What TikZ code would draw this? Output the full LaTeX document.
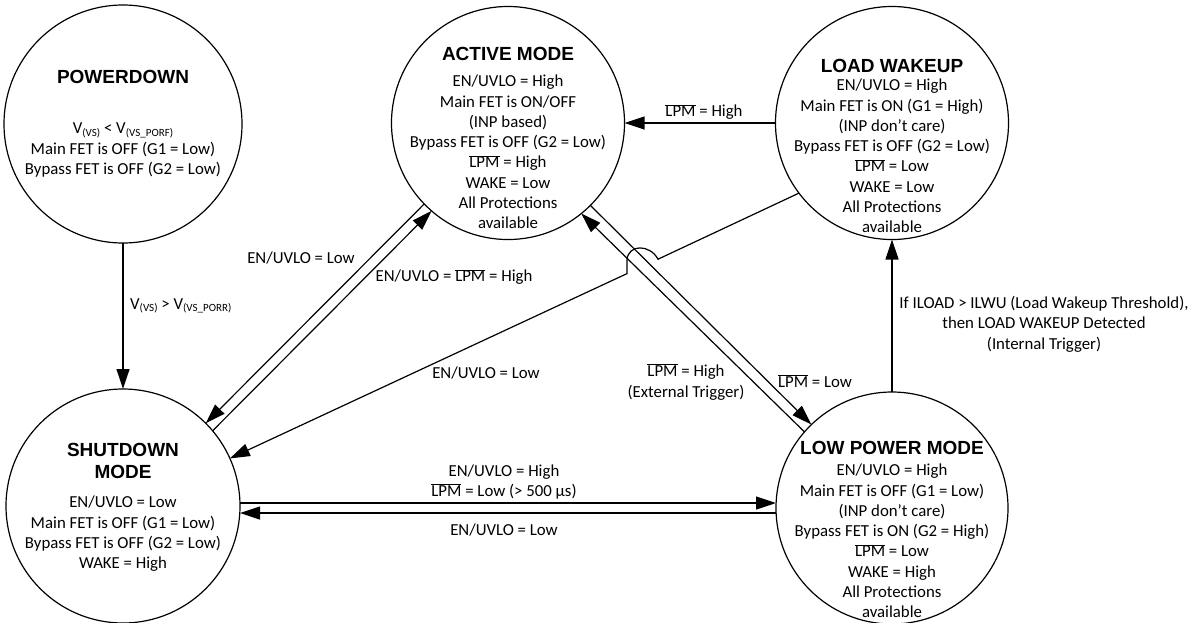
\documentclass[tikz,border=0pt]{standalone}
\usepackage{fontspec}
\setmainfont{Carlito}
\newfontfamily\ttlfont{Liberation Sans}
\usetikzlibrary{arrows.meta}
\newcommand\ovl[1]{$\overline{\mbox{#1}}$}
\newcommand\vsub[1]{\raisebox{-0.3ex}{\fontsize{11}{11}\selectfont#1}}
\begin{document}
\begin{tikzpicture}[x=1pt,y=-1pt,
  state/.style={draw, circle, line width=1.2pt, inner sep=0pt, outer sep=0pt},
  ttl/.style={font=\ttlfont\bfseries\fontsize{19}{22}\selectfont, align=center, inner sep=0pt},
  body/.style={font=\fontsize{16.8}{20.3}\selectfont, align=center, inner sep=0pt},
  lbl/.style={font=\fontsize{16.8}{20.3}\selectfont, align=center, inner sep=0pt},
  conn/.style={line width=1.2pt, -{Triangle[length=20pt,width=13pt]}},
]
\useasboundingbox (0,0) rectangle (1194,622);
% states
\node[state, minimum size=238] (pd)  at (123,124) {};
\node[state, minimum size=233] (act) at (508,123) {};
\node[state, minimum size=233] (lw)  at (892,123) {};
\node[state, minimum size=234] (sd)  at (123,506) {};
\node[state, minimum size=232] (lpm) at (892,508) {};
% state texts
\node[ttl] (pdT) at (123,77) {POWERDOWN};
\node[body] (pdB) at (123,150) {V\vsub{(VS)} < V\vsub{(VS\_PORF)}\\Main FET is OFF (G1 = Low)\\Bypass FET is OFF (G2 = Low)};
\node[ttl] (actT) at (508,54) {ACTIVE MODE};
\node[body] (actB) at (508,152) {EN/UVLO = High\\Main FET is ON/OFF\\(INP based)\\Bypass FET is OFF (G2 = Low)\\\ovl{LPM} = High\\WAKE = Low\\All Protections\\available};
\node[ttl] (lwT) at (892,66) {LOAD WAKEUP};
\node[body] (lwB) at (892,156) {EN/UVLO = High\\Main FET is ON (G1 = High)\\(INP don’t care)\\Bypass FET is OFF (G2 = Low)\\\ovl{LPM} = Low\\WAKE = Low\\All Protections\\available};
\node[ttl] (sdT) at (123,461) {SHUTDOWN\\MODE};
\node[body] (sdB) at (123,534) {EN/UVLO = Low\\Main FET is OFF (G1 = Low)\\Bypass FET is OFF (G2 = Low)\\WAKE = High};
\node[ttl] (lpmT) at (892,448) {LOW POWER MODE};
\node[body] (lpmB) at (892,541) {EN/UVLO = High\\Main FET is OFF (G1 = Low)\\(INP don’t care)\\Bypass FET is ON (G2 = High)\\\ovl{LPM} = Low\\WAKE = High\\All Protections\\available};
% helper coordinates
\coordinate (yU) at (0,503);
\coordinate (yL) at (0,513);
\coordinate (hopR) at (658,259.2);
\coordinate (hopL) at (627,260);
\coordinate (hopB) at (627,273.6);
% connectors
\draw[conn] (pd.south) -- (sd.north);
\draw[conn] (act.224) -- (sd.45.7);
\draw[conn] (sd.40.5) -- (act.229);
\draw[conn] (lpm.139.9) -- (act.309.8);
\draw[conn] (act.315) -- (lpm.134.7);
\draw[conn] (lpm.north) -- (lw.south);
\draw[conn] (lw.west) -- (act.east);
\draw[conn] (sd.east |- yU) -- (lpm.west |- yU);
\draw[conn] (lpm.west |- yL) -- (sd.east |- yL);
\draw[conn] (lw.217.3) -- (hopR) .. controls (650,244) and (628,244) .. (hopL) -- (hopB) -- (sd.24.2);
% labels
\node[lbl, anchor=west] (l1) at (130,306) {V\vsub{(VS)} > V\vsub{(VS\_PORR)}};
\node[lbl] (l2) at (301,258) {EN/UVLO = Low};
\node[lbl] (l3) at (454,277) {EN/UVLO = \ovl{LPM} = High};
\node[lbl] (l4) at (486,373) {EN/UVLO = Low};
\node[lbl] (l5) at (686,382) {\ovl{LPM} = High\\(External Trigger)};
\node[lbl] (l6) at (815,381) {\ovl{LPM} = Low};
\node[lbl] (l7) at (1044,324) {If ILOAD > ILWU (Load Wakeup Threshold),\\then LOAD WAKEUP Detected\\(Internal Trigger)};
\node[lbl] (l8) at (704,112) {\ovl{LPM} = High};
\node[lbl] (l9) at (504,482) {EN/UVLO = High\\\ovl{LPM} = Low (> 500 µs)};
\node[lbl] (l10) at (504,530) {EN/UVLO = Low};
\end{tikzpicture}
\end{document}
